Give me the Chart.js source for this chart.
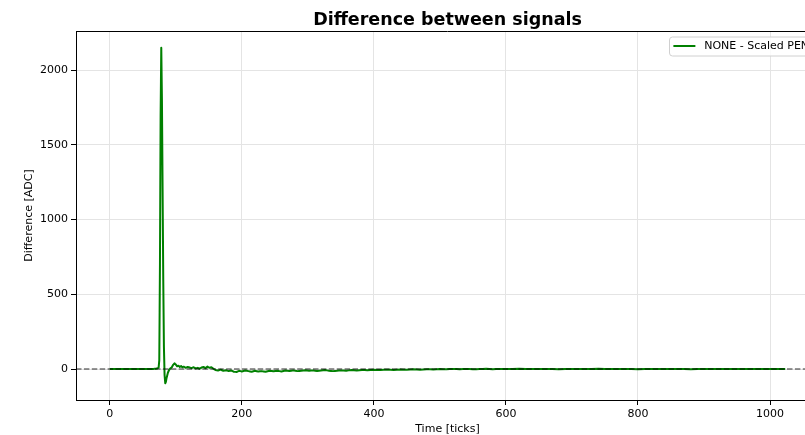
<!DOCTYPE html>
<html>
<head>
<meta charset="utf-8">
<title>Difference between signals</title>
<script src="https://cdn.jsdelivr.net/npm/chart.js@4.4.1/dist/chart.umd.min.js"></script>
<style>
  html, body { margin: 0; padding: 0; background: #fff; overflow: hidden; }
  #wrapper { width: 822px; height: 435px; }
</style>
</head>
<body>
<div id="wrapper">
  <canvas id="diffChart" width="822" height="435"></canvas>
</div>
<script>
// sampled difference trace (time in ticks, difference in ADC counts)
const timeTicks = [
  0, 10, 20, 30, 40, 50, 60, 66, 70, 72, 74, 75, 76, 77, 78, 79, 80, 81, 82, 83,
  84, 85, 86, 88, 90, 92, 94, 96, 98, 100, 102, 104, 106, 108, 110, 112, 115, 118, 121, 124,
  127, 130, 133, 136, 139, 142, 145, 148, 151, 154, 157, 160, 164, 168, 172, 176, 180, 184, 188, 192,
  196, 200, 205, 210, 215, 220, 225, 230, 236, 242, 248, 254, 260, 266, 272, 278, 284, 290, 296, 302,
  308, 314, 320, 326, 332, 338, 344, 350, 358, 366, 374, 382, 390, 400, 410, 420, 430, 440, 450, 460,
  470, 480, 490, 500, 510, 520, 530, 540, 550, 560, 570, 580, 590, 600, 620, 640, 660, 680, 700, 720,
  740, 760, 780, 800, 820, 840, 860, 880, 900, 920, 940, 960, 980, 1000, 1023
];
const diffValues = [
  0, 0, 0, 0, 1, 0, 0, 1, 2, 4, 10, 60, 700, 1700, 2150, 1800, 1200, 600, 150, -40,
  -95, -85, -60, -25, -5, 5, 12, 28, 38, 30, 18, 22, 14, 20, 12, 16, 8, 14, 10, 6,
  12, 4, 8, 2, 10, 14, 6, 16, 8, 12, 2, -6, -10, -4, -12, -8, -14, -10, -18, -20,
  -12, -16, -10, -14, -18, -12, -17, -14, -18, -11, -15, -12, -16, -10, -13, -9, -14, -11, -8, -12,
  -9, -13, -10, -7, -11, -14, -12, -9, -11, -7, -10, -6, -8, -5, -7, -4, -6, -3, -5, -2,
  -4, -1, -3, 0, -2, 1, -1, 1, -2, 0, 2, -1, 1, 0, 2, 0, 1, -1, 1, 0,
  2, 0, 1, -1, 1, 0, 1, -1, 0, 1, 0, 1, 0, 1, 0
];
const xTickValues = [0, 200, 400, 600, 800, 1000];
const yTickValues = [0, 500, 1000, 1500, 2000];
const seriesLabel = "NONE - Scaled PEN";

// matplotlib-like 5% margins around the data
const xSpan = timeTicks[timeTicks.length - 1] - timeTicks[0];
const xMin = timeTicks[0] - 0.05 * xSpan;
const xMax = timeTicks[timeTicks.length - 1] + 0.05 * xSpan;
const yLo = Math.min(...diffValues), yHi = Math.max(...diffValues);
const yMin = yLo - 0.05 * (yHi - yLo);
const yMax = yHi + 0.05 * (yHi - yLo);

const points = timeTicks.map((t, i) => ({ x: t, y: diffValues[i] }));
const FONT = "'DejaVu Sans', sans-serif";

// title, top spine, zero line and legend
const decorations = {
  id: "decorations",
  afterDatasetsDraw(chart) {
    const ctx = chart.ctx;
    const area = chart.chartArea;
    const y0 = chart.scales.y.getPixelForValue(0);

    ctx.save();
    ctx.strokeStyle = "rgba(0,0,0,0.55)";
    ctx.lineWidth = 1.5;
    ctx.setLineDash([5.5, 2.4]);
    ctx.beginPath();
    ctx.moveTo(area.left, y0);
    ctx.lineTo(area.right, y0);
    ctx.stroke();
    ctx.setLineDash([]);

    ctx.strokeStyle = "#000";
    ctx.lineWidth = 1;
    ctx.beginPath();
    ctx.moveTo(area.left, area.top + 0.5);
    ctx.lineTo(area.right, area.top + 0.5);
    ctx.stroke();

    // legend, upper right
    ctx.font = "11px " + FONT;
    const tw = ctx.measureText(seriesLabel).width;
    const boxW = 4.4 + 22 + 8.8 + tw + 4.4;
    const boxH = 19;
    const bx = area.right - 5.5 - boxW;
    const by = area.top + 5.5;
    ctx.fillStyle = "rgba(255,255,255,0.85)";
    ctx.strokeStyle = "#d0d0d0";
    ctx.lineWidth = 1;
    ctx.beginPath();
    ctx.roundRect(bx + 0.5, by + 0.5, boxW, boxH, 3);
    ctx.fill();
    ctx.stroke();
    ctx.strokeStyle = "#008000";
    ctx.lineWidth = 2;
    ctx.beginPath();
    ctx.moveTo(bx + 4.4, by + boxH / 2);
    ctx.lineTo(bx + 4.4 + 22, by + boxH / 2);
    ctx.stroke();
    ctx.fillStyle = "#000";
    ctx.textBaseline = "middle";
    ctx.textAlign = "left";
    ctx.fillText(seriesLabel, bx + 4.4 + 22 + 8.8, by + boxH / 2 + 0.5);

    // axes title
    ctx.font = "bold 17.5px " + FONT;
    ctx.textAlign = "center";
    ctx.textBaseline = "alphabetic";
    ctx.fillText("Difference between signals", (area.left + area.right) / 2, 25);
    ctx.restore();
  }
};

const plainLabel = (value) => String(value);

const ctxD = document.getElementById("diffChart").getContext("2d");
const diffChart = new Chart(ctxD, {
  type: "line",
  data: {
    datasets: [{
      label: seriesLabel,
      data: points,
      borderColor: "#008000",
      backgroundColor: "#008000",
      borderWidth: 2,
      borderJoinStyle: "round",
      pointRadius: 0,
      // a tiny tension keeps Chart.js off its pixel-merging fast path,
      // which would squash the narrow spike
      tension: 0.001,
      fill: false
    }]
  },
  options: {
    responsive: false,
    animation: false,
    layout: { padding: { top: 31, right: 3, left: 0, bottom: 0 } },
    plugins: {
      legend: { display: false },
      title: { display: false },
      tooltip: { enabled: false }
    },
    scales: {
      x: {
        type: "linear",
        min: xMin,
        max: xMax,
        afterBuildTicks: (scale) => { scale.ticks = xTickValues.map(v => ({ value: v })); },
        afterFit: (scale) => { scale.height = 35; },
        grid: { color: "#e4e4e4", lineWidth: 1, tickColor: "#000", tickLength: 5 },
        border: { display: true, color: "#000", width: 1 },
        ticks: { color: "#000", padding: 3, maxRotation: 0, callback: plainLabel, font: { family: FONT, size: 11 } },
        title: {
          display: true,
          text: "Time [ticks]",
          color: "#000",
          padding: { top: 0, bottom: 0 },
          font: { family: FONT, size: 11, lineHeight: 1.1 }
        }
      },
      y: {
        type: "linear",
        min: yMin,
        max: yMax,
        afterBuildTicks: (scale) => { scale.ticks = yTickValues.map(v => ({ value: v })); },
        afterFit: (scale) => { scale.width = 76; },
        grid: { color: "#e4e4e4", lineWidth: 1, tickColor: "#000", tickLength: 5 },
        border: { display: true, color: "#000", width: 1 },
        ticks: { color: "#000", padding: 3, callback: plainLabel, font: { family: FONT, size: 11 } },
        title: {
          display: true,
          text: "Difference [ADC]",
          color: "#000",
          padding: { top: 23, bottom: 0 },
          font: { family: FONT, size: 11, lineHeight: 1.1 }
        }
      }
    }
  },
  plugins: [decorations]
});
</script>
</body>
</html>
